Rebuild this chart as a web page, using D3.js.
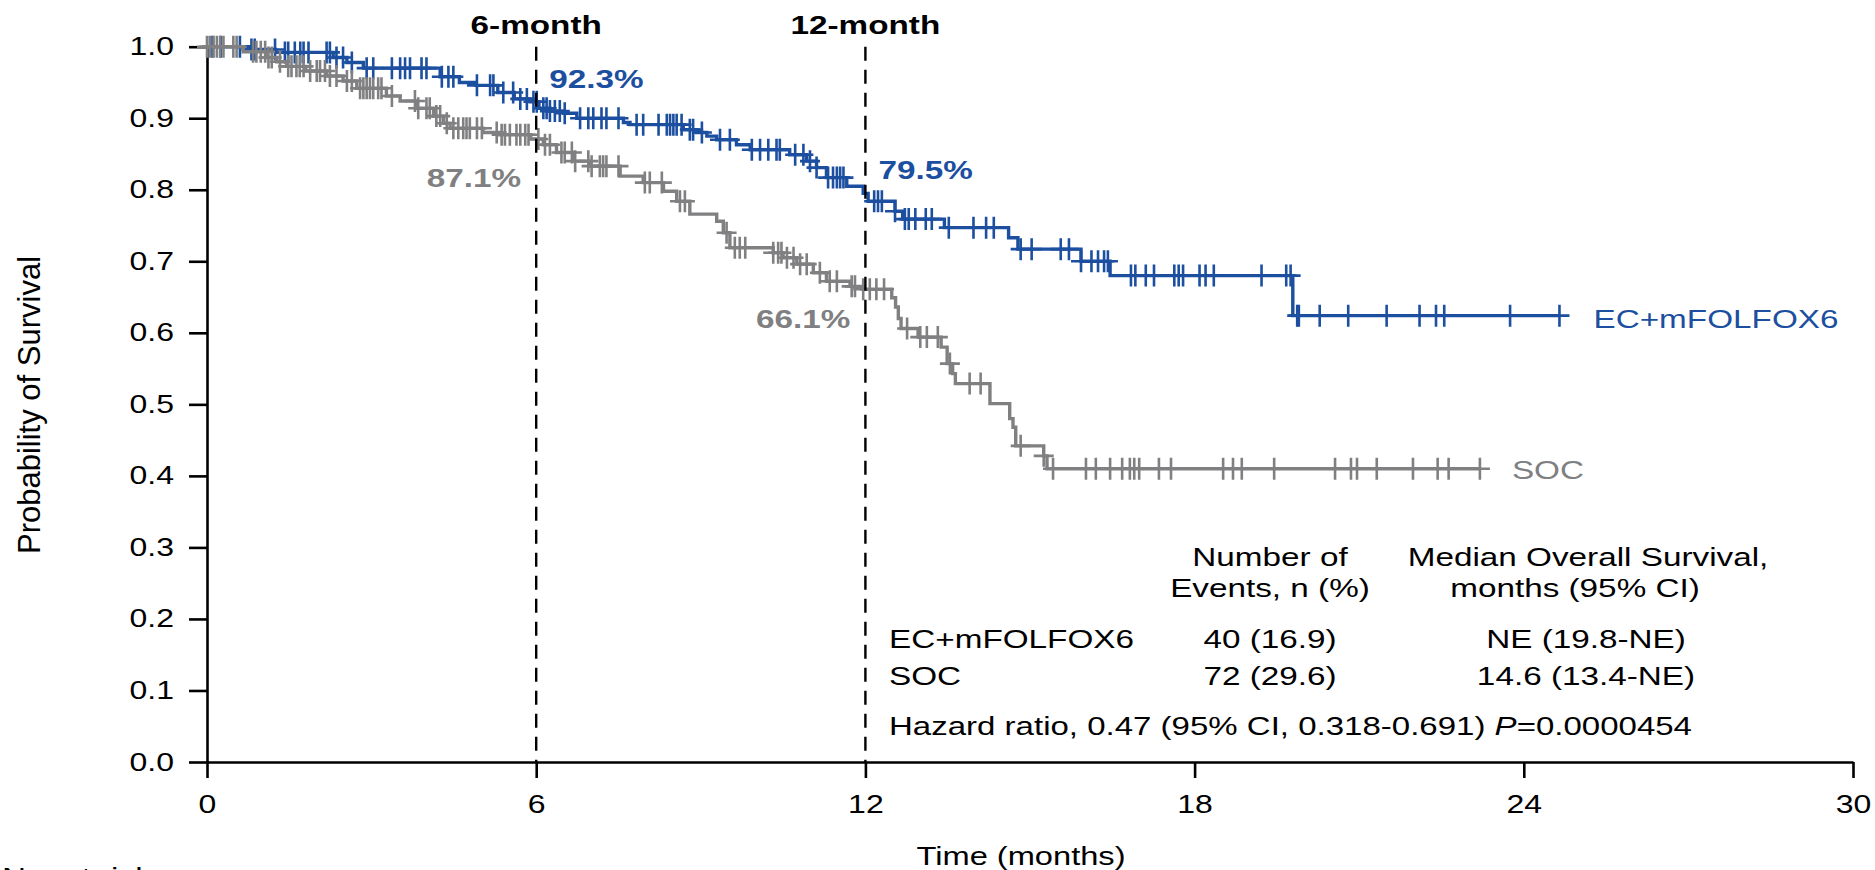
<!DOCTYPE html>
<html>
<head>
<meta charset="utf-8">
<script src="https://cdn.jsdelivr.net/npm/d3@7"></script>
<style>
  body { margin: 0; background: #fff; }
  svg { display: block; font-family: "Liberation Sans", Arial, sans-serif; }
</style>
</head>
<body>
<svg id="chart" width="1875" height="870"></svg>
<script>
// EC+mFOLFOX6 arm: step times (months) and survival after each step
var blueTimes = [0, 0.8, 1.25, 2.3, 2.55, 2.85, 4.25, 4.6, 4.9, 5.3, 5.6, 5.89,
  6.05, 6.25, 6.5, 6.74, 7.59, 7.71, 8.68, 8.92, 9.11, 9.29, 9.65, 9.9,
  10.62, 10.93, 11.11, 11.29, 11.66, 11.96, 12.05, 12.54, 12.68, 13.44, 14.61, 14.78,
  15.93, 16.46, 19.79];
var blueSurv = [1.0, 0.996, 0.992, 0.985, 0.978, 0.970, 0.958, 0.950, 0.946, 0.936, 0.927, 0.923,
  0.914, 0.910, 0.907, 0.900, 0.894, 0.891, 0.884, 0.880, 0.875, 0.870, 0.863, 0.856,
  0.849, 0.840, 0.831, 0.817, 0.805, 0.795, 0.784, 0.770, 0.759, 0.747, 0.733, 0.717,
  0.700, 0.680, 0.624];
var blueEnd = 24.65;
var blueCensor = [0.10, 0.25, 0.60, 0.81, 0.87, 1.24, 1.42, 1.48, 1.60, 1.70, 1.76, 1.85,
  2.18, 2.24, 2.36, 2.48, 2.64, 2.91, 3.03, 3.37, 3.52, 3.61, 3.70, 3.91, 4.0, 4.28,
  4.40, 4.49, 4.92, 5.16, 5.22, 5.40, 5.58, 5.71, 5.83, 5.95, 6.01, 6.13, 6.19, 6.25,
  6.34, 6.43, 6.52, 6.8, 6.95, 7.04, 7.19, 7.28, 7.5, 7.83, 7.95, 8.23, 8.38, 8.44,
  8.5, 8.56, 8.65, 8.8, 8.86, 9.02, 9.35, 9.53, 9.93, 10.08, 10.23, 10.38, 10.44,
  10.72, 10.87, 10.99, 11.11, 11.32, 11.41, 11.48, 11.54, 11.6, 12.16, 12.23, 12.3,
  12.54, 12.72, 12.79, 12.91, 13.1, 13.21, 13.52, 13.97, 14.2, 14.34, 14.83, 15.03,
  15.56, 15.71, 15.93, 16.12, 16.24, 16.35, 16.42, 16.84, 16.92, 17.11, 17.26, 17.63,
  17.71, 17.79, 18.09, 18.2, 18.35, 19.22, 19.67, 19.75, 19.87, 19.9, 20.28, 20.8,
  21.5, 22.1, 22.4, 22.55, 23.75, 24.65];

// SOC arm
var grayTimes = [0, 0.66, 1.09, 1.27, 1.45, 1.8, 2.18, 2.48, 2.73, 3.27, 3.52, 3.82,
  4.13, 4.31, 4.43, 5.03, 5.33, 5.9, 6.13, 6.37, 6.68, 6.98, 7.53, 7.95,
  8.32, 8.56, 8.8, 9.29, 9.41, 9.53, 10.32, 10.5, 10.75, 11.05, 11.29, 11.72,
  11.96, 12.48, 12.55, 12.6, 12.65, 12.96, 13.38, 13.49, 13.59, 13.64, 14.27, 14.63,
  14.69, 14.74, 15.25, 15.31];
var graySurv = [1.0, 0.993, 0.985, 0.979, 0.9725, 0.966, 0.959, 0.952, 0.942, 0.931, 0.924, 0.914,
  0.903, 0.893, 0.886, 0.880, 0.877, 0.871, 0.863, 0.852, 0.840, 0.833, 0.819, 0.810,
  0.798, 0.784, 0.766, 0.756, 0.740, 0.719, 0.712, 0.705, 0.696, 0.684, 0.672, 0.665,
  0.661, 0.649, 0.636, 0.620, 0.606, 0.594, 0.580, 0.557, 0.543, 0.529, 0.501, 0.480,
  0.468, 0.442, 0.428, 0.410];
var grayEnd = 23.2;
var grayCensor = [0.0, 0.05, 0.12, 0.18, 0.24, 0.3, 0.48, 0.54, 0.84, 0.9, 0.98, 1.06,
  1.12, 1.18, 1.33, 1.48, 1.54, 1.63, 1.69, 1.76, 1.88, 2.0, 2.06, 2.15, 2.24, 2.36,
  2.55, 2.64, 2.79, 2.85, 2.91, 2.97, 3.03, 3.12, 3.18, 3.37, 3.79, 3.85, 4.0, 4.06,
  4.18, 4.25, 4.37, 4.49, 4.58, 4.67, 4.73, 4.79, 4.92, 5.01, 5.28, 5.37, 5.43, 5.52,
  5.64, 5.71, 5.8, 5.86, 6.04, 6.16, 6.25, 6.46, 6.52, 6.65, 6.71, 6.95, 7.01, 7.16,
  7.22, 7.28, 7.5, 7.98, 8.07, 8.29, 8.62, 8.71, 9.47, 9.62, 9.71, 9.81, 10.32, 10.41,
  10.47, 10.57, 10.69, 10.81, 10.93, 11.17, 11.35, 11.48, 11.75, 11.81, 11.96, 12.08,
  12.2, 12.34, 12.76, 13.0, 13.12, 13.32, 13.54, 13.9, 14.1, 14.83, 15.25, 15.42,
  16.02, 16.2, 16.46, 16.68, 16.82, 16.9, 16.99, 17.35, 17.57, 18.52, 18.7, 18.86,
  19.45, 20.56, 20.85, 20.96, 21.32, 21.98, 22.43, 22.63, 23.2];

// milestones and ticks
var milestoneTimes = [6, 12];
var milestoneLabels = ["6-month", "12-month"];
var blueMilestone = ["92.3%", "79.5%"];
var grayMilestone = ["87.1%", "66.1%"];
var xTicks = [0, 6, 12, 18, 24, 30];
var yTicks = [0, 0.1, 0.2, 0.3, 0.4, 0.5, 0.6, 0.7, 0.8, 0.9, 1.0];

// summary table
var armNames = ["EC+mFOLFOX6", "SOC"];
var armEvents = ["40 (16.9)", "72 (29.6)"];
var armMedian = ["NE (19.8-NE)", "14.6 (13.4-NE)"];

var BLUE = "#1c4f9f";
var GRAY = "#808082";
var SX = 1.28; // the picture's text is wider than plain Arial

var svg = d3.select("#chart");
var x = d3.scaleLinear().domain([0, 30]).range([207, 1853]);
var y = d3.scaleLinear().domain([0, 1]).range([762, 46.7]);

function survAt(times, surv, t) {
  var i = d3.bisectRight(times, t) - 1;
  return surv[Math.max(0, i)];
}

function label(sel, px, py, str, o) {
  o = o || {};
  return sel.append("text")
    .attr("transform", "translate(" + px + "," + py + ") scale(" + SX + ",1)")
    .attr("text-anchor", o.anchor || "start")
    .attr("font-size", o.size || 26)
    .attr("font-weight", o.weight || "normal")
    .attr("fill", o.color || "#000")
    .text(str);
}

// axes
var gx = svg.append("g")
  .attr("transform", "translate(0," + y(0) + ")")
  .call(d3.axisBottom(x).tickValues(xTicks).tickSize(16).tickPadding(17).tickSizeOuter(0));
var gy = svg.append("g")
  .attr("transform", "translate(" + x(0) + ",0)")
  .call(d3.axisLeft(y).tickValues(yTicks).tickSize(18).tickSizeOuter(0).tickFormat(d3.format(".1f")));

[gx, gy].forEach(function (g) {
  g.select(".domain").attr("stroke", "#000").attr("stroke-width", 2.6);
  g.selectAll(".tick line").attr("stroke", "#000").attr("stroke-width", 2.6);
  g.selectAll(".tick text")
    .attr("font-family", null)
    .attr("font-size", 25)
    .attr("fill", "#000");
});
gx.selectAll(".tick text").attr("transform", "scale(" + SX + ",1)");
gy.selectAll(".tick text").attr("x", -33 / SX).attr("transform", "scale(" + SX + ",1)");

// KM curves
function drawArm(times, surv, endT, censor, color) {
  var pts = times.map(function (t, i) { return [t, surv[i]]; });
  pts.push([endT, surv[surv.length - 1]]);
  var line = d3.line()
    .x(function (d) { return x(d[0]); })
    .y(function (d) { return y(d[1]); })
    .curve(d3.curveStepAfter);
  svg.append("path")
    .attr("d", line(pts))
    .attr("fill", "none")
    .attr("stroke", color)
    .attr("stroke-width", 3.4);
  svg.append("g").selectAll("path")
    .data(censor)
    .enter()
    .append("path")
    .attr("transform", function (t) {
      return "translate(" + x(t) + "," + y(survAt(times, surv, t)) + ")";
    })
    .attr("d", "M-10,0H10M0,-11V11")
    .attr("fill", "none")
    .attr("stroke", color)
    .attr("stroke-width", 2.6);
}
drawArm(blueTimes, blueSurv, blueEnd, blueCensor, BLUE);
drawArm(grayTimes, graySurv, grayEnd, grayCensor, GRAY);

// milestone dashed lines
svg.append("g").selectAll("line")
  .data(milestoneTimes)
  .enter()
  .append("line")
  .attr("x1", function (d) { return x(d); })
  .attr("x2", function (d) { return x(d); })
  .attr("y1", y(1))
  .attr("y2", y(0))
  .attr("stroke", "#000")
  .attr("stroke-width", 2.4)
  .attr("stroke-dasharray", "14,9");

milestoneTimes.forEach(function (t, i) {
  label(svg, x(t), 34, milestoneLabels[i], { anchor: "middle", weight: "bold" });
  var bv = survAt(blueTimes, blueSurv, t - 0.001);
  var gv = survAt(grayTimes, graySurv, t - 0.001);
  label(svg, x(t) + 13, y(bv) - 14, blueMilestone[i], { weight: "bold", color: BLUE });
  label(svg, x(t) - 15, y(gv) + (i === 0 ? 48 : 39), grayMilestone[i],
    { anchor: "end", weight: "bold", color: GRAY });
});

// arm labels at curve ends
label(svg, x(blueEnd) + 34, y(blueSurv[blueSurv.length - 1]) + 12, armNames[0], { color: BLUE });
label(svg, x(grayEnd) + 32, y(graySurv[graySurv.length - 1]) + 10, armNames[1], { color: GRAY });

// axis titles
label(svg, 1021, 865, "Time (months)", { anchor: "middle", size: 25.5 });
svg.append("text")
  .attr("transform", "translate(40,405) rotate(-90)")
  .attr("text-anchor", "middle")
  .attr("font-size", 31)
  .text("Probability of Survival");

// start of the risk table, cut off by the picture's edge
label(svg, 2, 886, "No. at risk");

// summary table
var table = svg.append("g");
label(table, 1270, 566, "Number of", { anchor: "middle" });
label(table, 1270, 597, "Events, n (%)", { anchor: "middle" });
label(table, 1588, 566, "Median Overall Survival,", { anchor: "middle" });
label(table, 1575, 597, "months (95% CI)", { anchor: "middle" });
armNames.forEach(function (name, i) {
  var by = 648 + i * 37;
  label(table, 889, by, name);
  label(table, 1270, by, armEvents[i], { anchor: "middle" });
  label(table, 1586, by, armMedian[i], { anchor: "middle" });
});
var hr = label(table, 889, 735, "Hazard ratio, 0.47 (95% CI, 0.318-0.691) ", { size: 25.8 });
hr.append("tspan").attr("font-style", "italic").text("P");
hr.append("tspan").text("=0.0000454");
</script>
</body>
</html>
